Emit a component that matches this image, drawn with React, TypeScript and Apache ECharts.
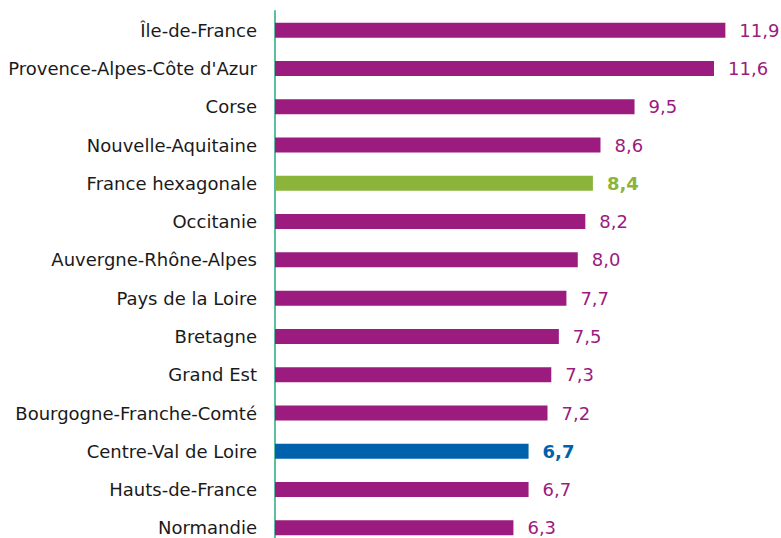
import React, { useEffect, useRef } from "react";
import * as echarts from "echarts";

const categories = [
  "Île-de-France",
  "Provence-Alpes-Côte d'Azur",
  "Corse",
  "Nouvelle-Aquitaine",
  "France hexagonale",
  "Occitanie",
  "Auvergne-Rhône-Alpes",
  "Pays de la Loire",
  "Bretagne",
  "Grand Est",
  "Bourgogne-Franche-Comté",
  "Centre-Val de Loire",
  "Hauts-de-France",
  "Normandie",
];
const values = [11.9, 11.6, 9.5, 8.6, 8.4, 8.2, 8.0, 7.7, 7.5, 7.3, 7.2, 6.7, 6.7, 6.3];

const PURPLE = "#9B1B7E";
const GREEN = "#8BB53A";
const BLUE = "#0062AC";
const AXIS = "#5CBFA2";
const FONT = "DejaVu Sans";

function colorFor(name: string) {
  if (name === "France hexagonale") return GREEN;
  if (name === "Centre-Val de Loire") return BLUE;
  return PURPLE;
}

export default function App() {
  const ref = useRef<HTMLDivElement>(null);
  useEffect(() => {
    if (!ref.current) return;
    const chart = echarts.init(ref.current, undefined, { renderer: "svg" });
    const data = values.map((v, i) => {
      const c = colorFor(categories[i]);
      const bold = c !== PURPLE;
      return {
        value: v,
        itemStyle: { color: c },
        label: { color: c, fontWeight: bold ? "bold" : "normal" },
      };
    });
    chart.setOption({
      animation: false,
      grid: { left: 275, top: 11, width: 492, height: 536 },
      xAxis: {
        type: "value",
        min: 0,
        max: 13,
        show: false,
      },
      yAxis: {
        type: "category",
        data: categories,
        inverse: true,
        axisLine: { show: true, lineStyle: { color: AXIS, width: 2 } },
        axisTick: { show: false },
        axisLabel: {
          margin: 18,
          color: "#1a1a1a",
          fontSize: 18,
          fontFamily: FONT,
        },
      },
      series: [
        {
          type: "bar",
          data,
          barWidth: 15,
          label: {
            show: true,
            position: "right",
            distance: 14,
            fontSize: 18,
            fontFamily: FONT,
            formatter: (p: any) => Number(p.value).toFixed(1).replace(".", ","),
          },
        },
      ],
    });
    return () => chart.dispose();
  }, []);
  return (
    <div
      ref={ref}
      style={{ position: "fixed", left: 0, top: 0, width: 781, height: 560, background: "#fff" }}
    />
  );
}
